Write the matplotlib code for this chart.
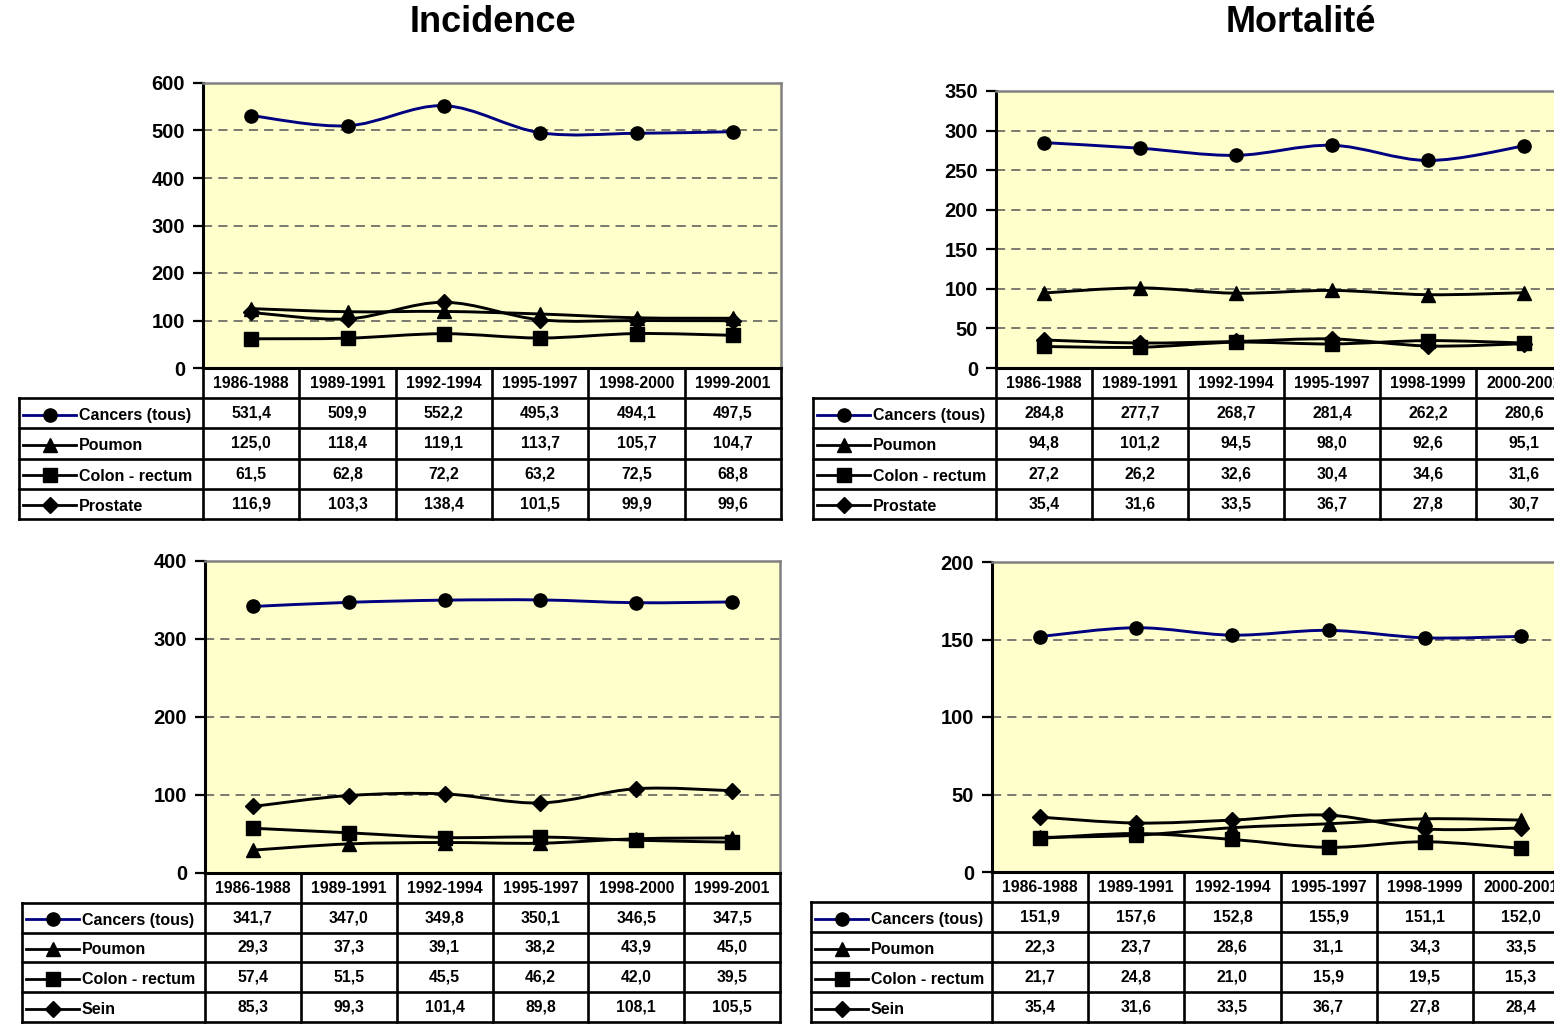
import numpy as np
import matplotlib
matplotlib.use("Agg")
import matplotlib.pyplot as plt
from matplotlib.path import Path
from matplotlib.patches import PathPatch

plt.rcParams["font.family"] = ["Liberation Sans", "DejaVu Sans"]
plt.rcParams["font.weight"] = "bold"

W, H = 1554, 1024

# ---- data -------------------------------------------------------------
periods_incidence = ["1986-1988", "1989-1991", "1992-1994", "1995-1997", "1998-2000", "1999-2001"]
periods_mortalite = ["1986-1988", "1989-1991", "1992-1994", "1995-1997", "1998-1999", "2000-2001"]

names_hommes = ["Cancers (tous)", "Poumon", "Colon - rectum", "Prostate"]
names_femmes = ["Cancers (tous)", "Poumon", "Colon - rectum", "Sein"]

# Incidence, hommes
inc_h_tous = [531.4, 509.9, 552.2, 495.3, 494.1, 497.5]
inc_h_poumon = [125.0, 118.4, 119.1, 113.7, 105.7, 104.7]
inc_h_colon = [61.5, 62.8, 72.2, 63.2, 72.5, 68.8]
inc_h_prostate = [116.9, 103.3, 138.4, 101.5, 99.9, 99.6]

# Mortalité, hommes
mort_h_tous = [284.8, 277.7, 268.7, 281.4, 262.2, 280.6]
mort_h_poumon = [94.8, 101.2, 94.5, 98.0, 92.6, 95.1]
mort_h_colon = [27.2, 26.2, 32.6, 30.4, 34.6, 31.6]
mort_h_prostate = [35.4, 31.6, 33.5, 36.7, 27.8, 30.7]

# Incidence, femmes
inc_f_tous = [341.7, 347.0, 349.8, 350.1, 346.5, 347.5]
inc_f_poumon = [29.3, 37.3, 39.1, 38.2, 43.9, 45.0]
inc_f_colon = [57.4, 51.5, 45.5, 46.2, 42.0, 39.5]
inc_f_sein = [85.3, 99.3, 101.4, 89.8, 108.1, 105.5]

# Mortalité, femmes
mort_f_tous = [151.9, 157.6, 152.8, 155.9, 151.1, 152.0]
mort_f_poumon = [22.3, 23.7, 28.6, 31.1, 34.3, 33.5]
mort_f_colon = [21.7, 24.8, 21.0, 15.9, 19.5, 15.3]
mort_f_sein = [35.4, 31.6, 33.5, 36.7, 27.8, 28.4]

# ---- styles -----------------------------------------------------------
LINE_COLORS = ["#000080", "black", "black", "black"]
MARKERS = ["o", "^", "s", "D"]
MSIZES = [9.5, 9.5, 9.5, 8.5]
PLOT_BG = "#FFFFCC"
TXT = 11.3

fig = plt.figure(figsize=(W / 100, H / 100), dpi=100)
fig.patch.set_facecolor("white")


def rect(left, top, right, bottom):
    return [left / W, 1 - bottom / H, (right - left) / W, (bottom - top) / H]


def smooth_path(xs, ys):
    """Cubic Bezier path through the points (Catmull-Rom style smoothing)."""
    pts = np.column_stack([xs, ys]).astype(float)
    n = len(pts)
    verts = [pts[0]]
    codes = [Path.MOVETO]
    for i in range(n - 1):
        p0 = pts[i - 1] if i > 0 else pts[i]
        p1 = pts[i]
        p2 = pts[i + 1]
        p3 = pts[i + 2] if i + 2 < n else pts[i + 1]
        verts += [p1 + (p2 - p0) / 6, p2 - (p3 - p1) / 6, p2]
        codes += [Path.CURVE4] * 3
    return Path(verts, codes)


def fmt(v):
    return f"{v:.1f}".replace(".", ",")


def draw_panel(geom, periods, names, series, ymax, ystep):
    L, R, T, B, LL, TB = geom
    ax = fig.add_axes(rect(L, T, R, B))
    ax.set_facecolor(PLOT_BG)
    ax.set_xlim(-0.5, 5.5)
    ax.set_ylim(0, ymax)
    ax.set_xticks([])
    yt = np.arange(0, ymax + 1, ystep)
    ax.set_yticks(yt)
    ax.set_yticklabels([str(int(v)) for v in yt], fontsize=14.5, fontweight="bold")
    ax.tick_params(axis="y", length=7, width=1.6, pad=6, color="black")
    for y in yt[1:-1]:
        ax.axhline(y, color="#555555", lw=1.1, ls=(0, (6, 4)), zorder=1)
    for s in ("top", "right"):
        ax.spines[s].set_color("#808080")
        ax.spines[s].set_linewidth(1.8)
    for s in ("left", "bottom"):
        ax.spines[s].set_color("black")
        ax.spines[s].set_linewidth(2.2)

    x = np.arange(len(periods))
    for vals, col, mk, ms in zip(series, LINE_COLORS, MARKERS, MSIZES):
        ax.add_patch(PathPatch(smooth_path(x, vals), fill=False, edgecolor=col,
                               lw=2.1, zorder=3))
        ax.plot(x, vals, ls="none", marker=mk, ms=ms, color="black", zorder=4)

    # data table under the plot
    colw = (R - L) / 6
    tax = fig.add_axes(rect(LL, B, R, TB))
    x0 = -0.5 - (L - LL) / colw
    tax.set_xlim(x0, 5.5)
    tax.set_ylim(5, 0)
    tax.axis("off")
    lw = 1.9
    for i in range(7):
        tax.plot([i - 0.5, i - 0.5], [0, 5], color="black", lw=lw, clip_on=False)
    for r in range(1, 6):
        tax.plot([x0, 5.5], [r, r], color="black", lw=lw, clip_on=False)
    tax.plot([x0, x0], [1, 5], color="black", lw=lw, clip_on=False)

    for i, p in enumerate(periods):
        tax.text(i, 0.52, p, ha="center", va="center", fontsize=TXT, fontweight="bold")
    for r, (nm, vals, col, mk, ms) in enumerate(zip(names, series, LINE_COLORS,
                                                      MARKERS, MSIZES)):
        yc = r + 1.5
        for i, v in enumerate(vals):
            tax.text(i, yc, fmt(v), ha="center", va="center", fontsize=TXT,
                     fontweight="bold")
        xa = x0 + 4 / colw
        xb = x0 + 57 / colw
        tax.plot([xa, xb], [yc + 0.05, yc + 0.05], color=col, lw=2.0, clip_on=False)
        tax.plot([(xa + xb) / 2], [yc + 0.05], ls="none", marker=mk, ms=ms,
                 color="black", clip_on=False)
        tax.text(x0 + 60 / colw, yc + 0.08, nm, ha="left", va="center",
                 fontsize=TXT + 0.2, fontweight="bold")
    return ax


draw_panel((203, 781, 83, 368, 19, 519), periods_incidence, names_hommes,
           [inc_h_tous, inc_h_poumon, inc_h_colon, inc_h_prostate], 600, 100)
draw_panel((996, 1572, 91, 368, 813, 519), periods_mortalite, names_hommes,
           [mort_h_tous, mort_h_poumon, mort_h_colon, mort_h_prostate], 350, 50)
draw_panel((205, 780, 561, 873, 22, 1022), periods_incidence, names_femmes,
           [inc_f_tous, inc_f_poumon, inc_f_colon, inc_f_sein], 400, 100)
draw_panel((992, 1569, 562, 872, 811, 1022), periods_mortalite, names_femmes,
           [mort_f_tous, mort_f_poumon, mort_f_colon, mort_f_sein], 200, 50)

fig.text(493 / W, 1 - 23 / H, "Incidence", ha="center", va="center",
         fontsize=26, fontweight="bold")
fig.text(1301 / W, 1 - 23 / H, "Mortalité", ha="center", va="center",
         fontsize=26, fontweight="bold")

fig.savefig("out.png", dpi=100, facecolor="white")
